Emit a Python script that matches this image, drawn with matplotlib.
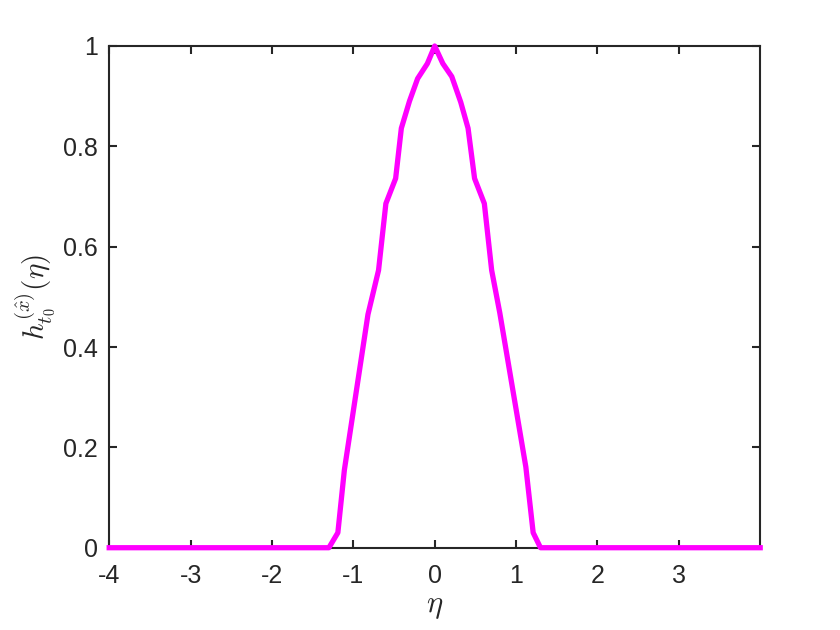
import numpy as np
from matplotlib import pyplot as plt

# profile of h (eta, value)
eta = [-4.0, -1.30, -1.19, -1.11, -0.82, -0.69, -0.60, -0.48, -0.41, -0.31, -0.21, -0.09, 0.0,
       0.10, 0.21, 0.32, 0.41, 0.49, 0.61, 0.70, 0.80, 1.12, 1.21, 1.30, 4.0]
h = [0.0, 0.0, 0.03, 0.155, 0.465, 0.553, 0.686, 0.736, 0.836, 0.89, 0.935, 0.965, 1.0,
     0.965, 0.939, 0.888, 0.836, 0.736, 0.686, 0.553, 0.468, 0.161, 0.03, 0.0, 0.0]

x_ticks = [-4, -3, -2, -1, 0, 1, 2, 3]
y_ticks = [0, 0.2, 0.4, 0.6, 0.8, 1]
y_tick_labels = ['0', '0.2', '0.4', '0.6', '0.8', '1']

if __name__ == "__main__":

    plt.rcParams['font.family'] = ['Liberation Sans', 'DejaVu Sans']
    plt.rcParams['mathtext.fontset'] = 'cm'
    plt.rcParams['axes.unicode_minus'] = False

    fig = plt.figure(figsize=(8.4, 6.3), dpi=100)
    ax = fig.add_axes([0.13, 0.1306, 0.775, 0.7964])

    ax.plot(eta, h, color='#ff00ff', linewidth=3.8, clip_on=False, zorder=3)

    ax.set_xlim(-4, 4)
    ax.set_ylim(0, 1)
    ax.set_xticks(x_ticks)
    ax.set_yticks(y_ticks)
    ax.set_yticklabels(y_tick_labels)

    for side in ['top', 'bottom', 'left', 'right']:
        ax.spines[side].set_color('#262626')
        ax.spines[side].set_linewidth(1.5)
    ax.tick_params(direction='in', length=6, width=1.5, colors='#262626',
                   labelsize=18, top=True, right=True)
    ax.tick_params(axis='x', pad=12)
    ax.tick_params(axis='y', pad=8)

    ax.set_xlabel(r'$\eta$', fontsize=22, color='#262626', labelpad=2)
    ax.set_ylabel(r'$h_{t_0}^{(\hat{x})}(\eta)$', fontsize=21, color='#262626', labelpad=4)

    plt.savefig('out.png', dpi=100)
